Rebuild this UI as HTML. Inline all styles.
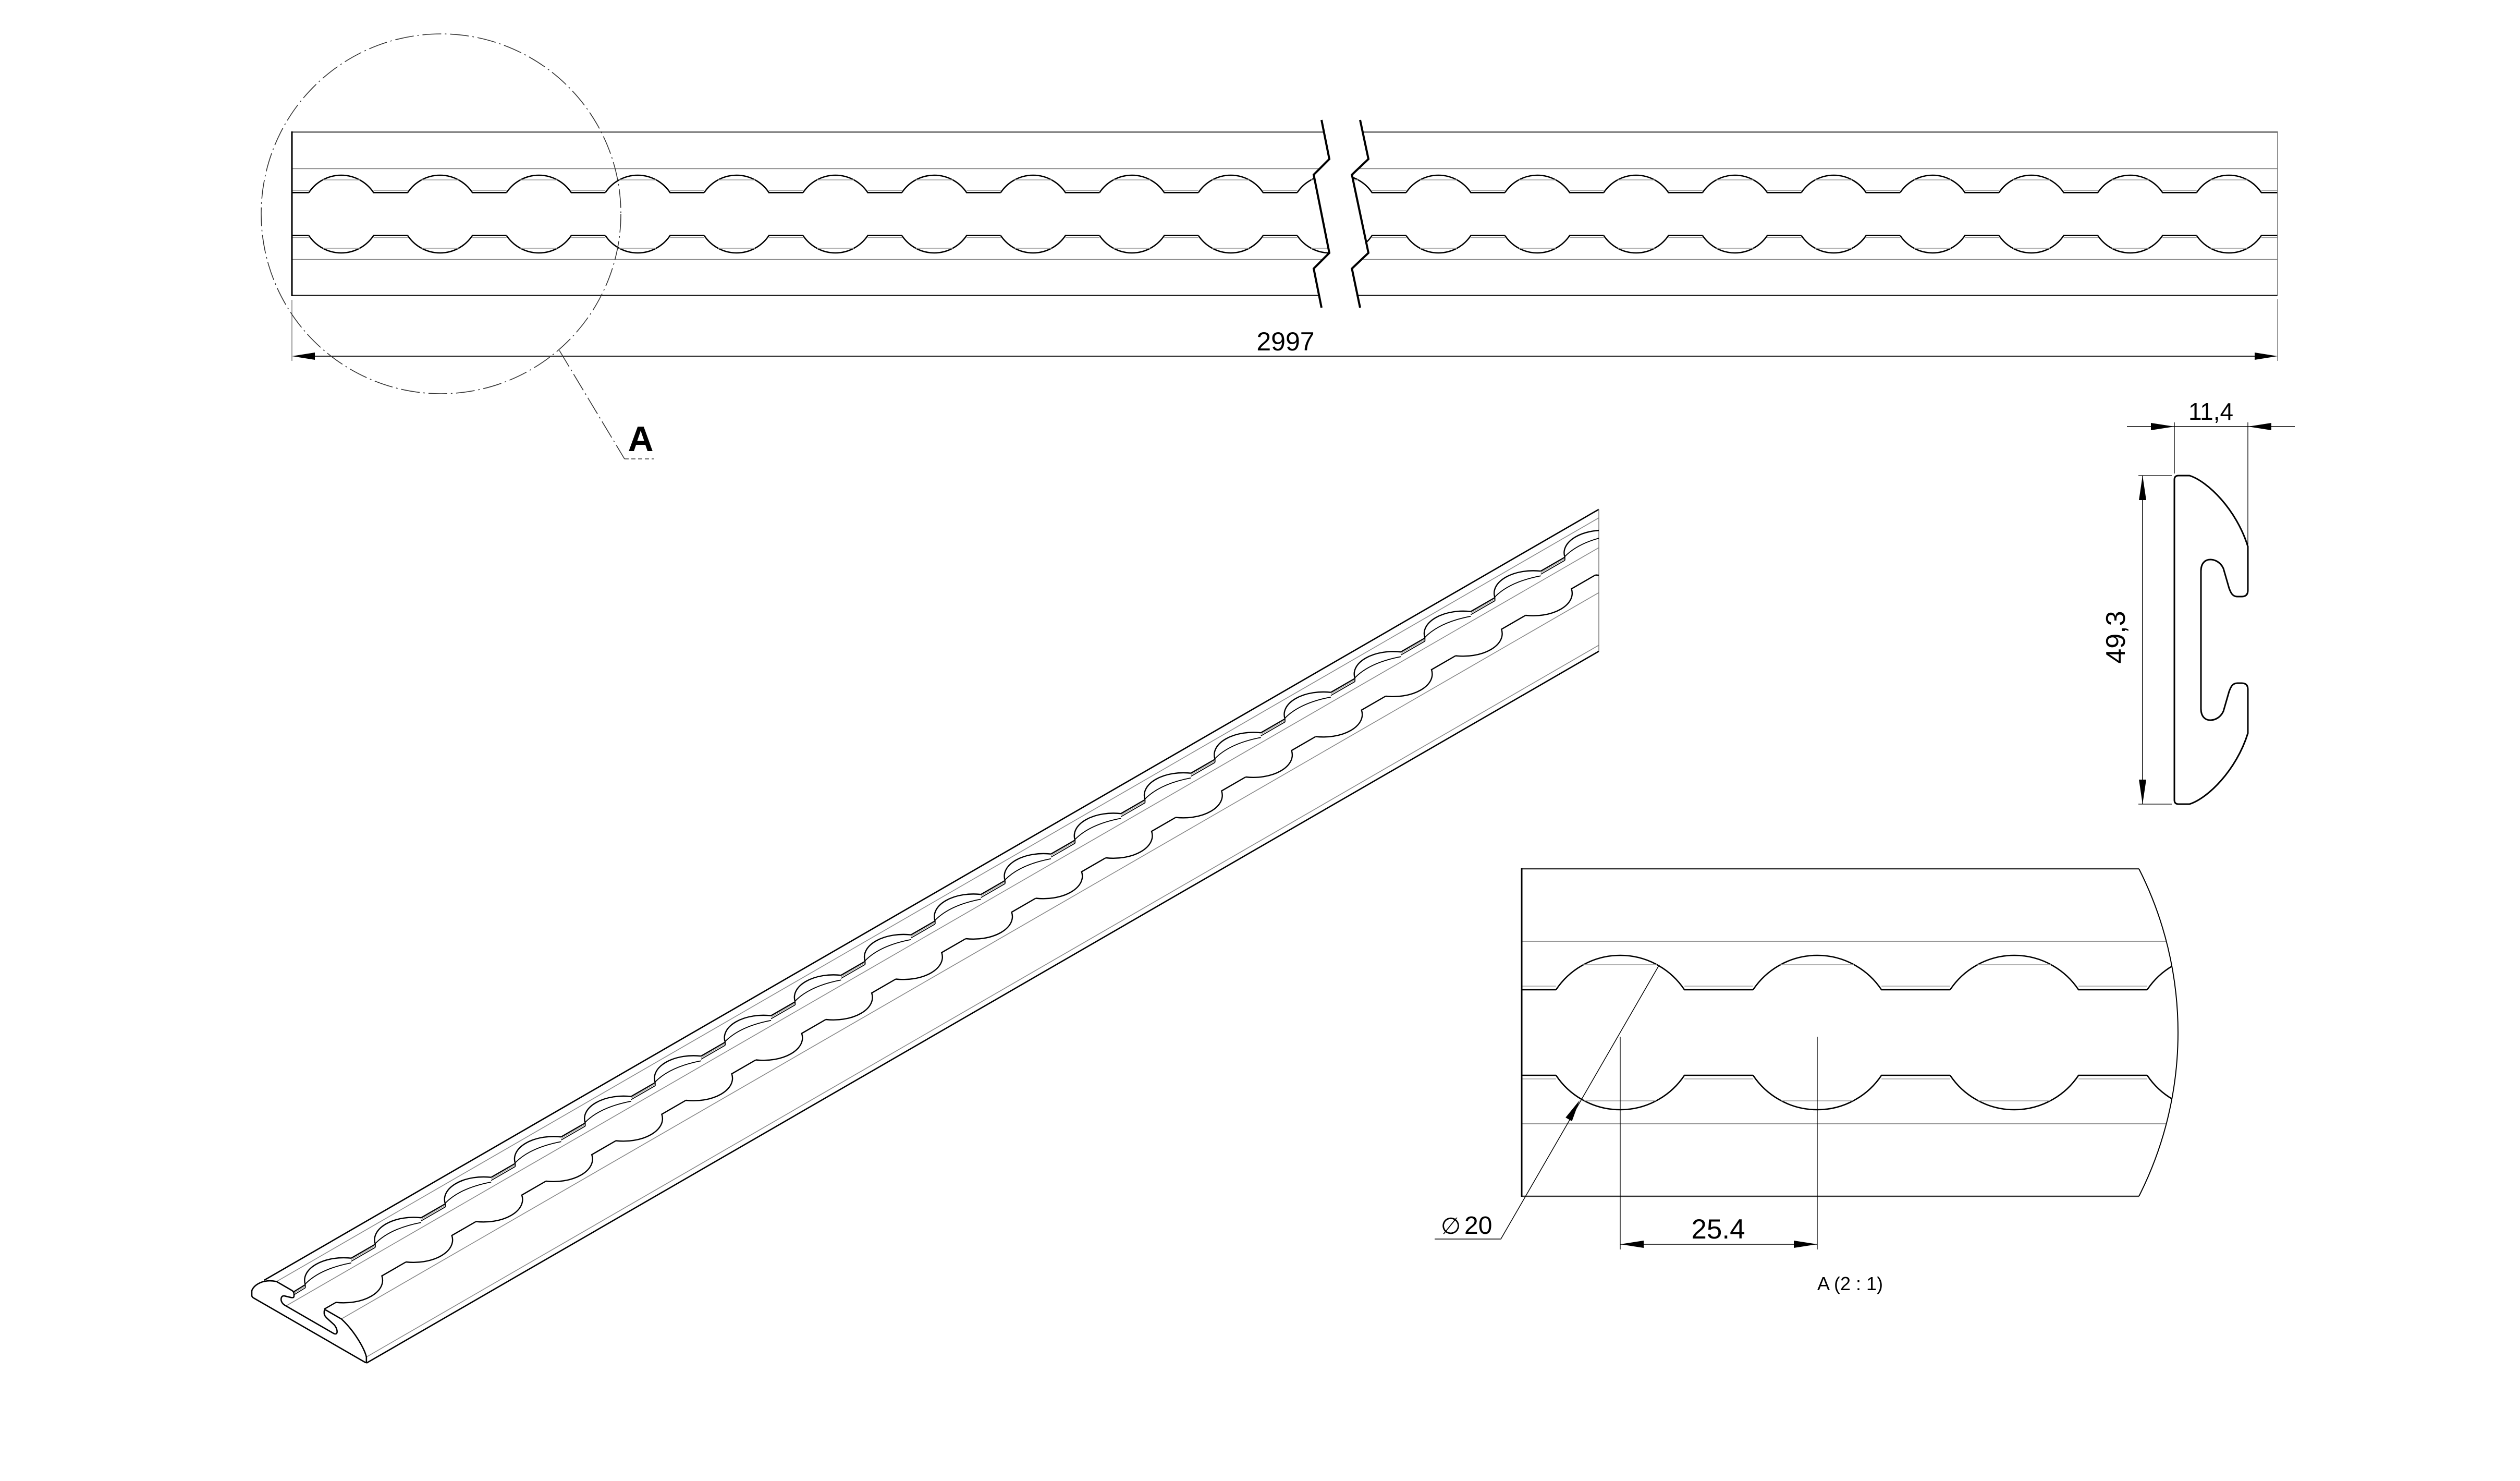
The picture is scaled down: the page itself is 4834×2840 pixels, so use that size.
<!DOCTYPE html>
<html>
<head>
<meta charset="utf-8">
<style>
html,body{margin:0;padding:0;background:#fff;}
svg{display:block;}
text{font-family:"Liberation Sans","DejaVu Sans",sans-serif;fill:#000;}
</style>
</head>
<body>
<svg xmlns="http://www.w3.org/2000/svg" width="4834" height="2840" viewBox="0 0 4834 2840">
<defs>
  <clipPath id="clipL"><path d="M0 0 H2535 V230 L2550 305 L2520 335 L2550 485 L2520 515 L2535 590 V700 H0 Z"/></clipPath>
  <clipPath id="clipR"><path d="M4369.5 0 H2609 V230 L2625 305 L2593.3 335 L2625 485 L2593.3 515 L2609 590 V700 H4369.5 Z"/></clipPath>
  <clipPath id="clipD"><path d="M2900 1666 H4103 A695 695 0 0 1 4103 2294 H2900 Z"/></clipPath>
  <clipPath id="clipI"><rect x="0" y="0" width="3067" height="2840"/></clipPath>

  <g id="tvl" fill="none">
    <line x1="560" y1="253.3" x2="4369" y2="253.3" stroke="#666" stroke-width="2.6"/>
    <line x1="560" y1="323.3" x2="4369" y2="323.3" stroke="#8a8a8a" stroke-width="1.8"/>
    <line x1="560" y1="497.7" x2="4369" y2="497.7" stroke="#8a8a8a" stroke-width="1.8"/>
    <line x1="560" y1="566.7" x2="4369" y2="566.7" stroke="#222" stroke-width="2.6"/>
  </g>
  <g id="tp" fill="none">
    <path d="M0 369.3 A74.5 74.5 0 0 1 124.14 369.3 H189.6" stroke="#000" stroke-width="2.6"/>
    <path d="M0 451.7 A74.5 74.5 0 0 0 124.14 451.7 H189.6" stroke="#000" stroke-width="2.6"/>
    <path d="M26.57 345 H97.57 M26.57 476 H97.57 M124.14 365.5 H189.6 M124.14 455.5 H189.6" stroke="#9a9a9a" stroke-width="1.6"/>
  </g>
  <g id="dp" fill="none">
    <path d="M0 1898 A148 148 0 0 1 246.4 1898 H378" stroke="#000" stroke-width="2.6"/>
    <path d="M0 2062 A148 148 0 0 0 246.4 2062 H378" stroke="#000" stroke-width="2.6"/>
    <path d="M52.5 1850 H193.9 M54.3 2111 H192.1 M246.4 1891 H378 M246.4 2069 H378" stroke="#9a9a9a" stroke-width="1.6"/>
  </g>
  <g id="ip" fill="none" stroke="#000">
    <path d="M-73.4 8.4 A74.9 43.2 0 0 1 14.6 -42.4" stroke-width="2.4"/>
    <path d="M-73.4 7 Q-45 -22 14.6 -33.4" stroke-width="1.8"/>
    <path d="M-73.4 8.4 v6" stroke-width="1.8"/>
    <path d="M14.6 -42.4 L60.83 -69.1" stroke-width="2.4"/>
    <path d="M14.6 -36.4 L60.83 -63.1" stroke-width="1.6"/>
    <path d="M14.6 -39.4 L60.83 -66.1" stroke="#999" stroke-width="1.2"/>
    <path d="M-14.6 42.4 A74.9 43.2 0 0 0 73.4 -8.4 L119.63 -35.1" stroke-width="2.4"/>
  </g>
</defs>

<!-- ================= TOP VIEW ================= -->
<g clip-path="url(#clipL)">
  <use href="#tvl"/>
  <path d="M560 369.3 H592.43 M560 451.7 H592.43" stroke="#000" stroke-width="2.6" fill="none"/>
  <path d="M560 365.5 H592.43 M560 455.5 H592.43" stroke="#9a9a9a" stroke-width="1.6" fill="none"/>
  <use href="#tp" x="592.43"/>
  <use href="#tp" x="782.03"/>
  <use href="#tp" x="971.63"/>
  <use href="#tp" x="1161.23"/>
  <use href="#tp" x="1350.83"/>
  <use href="#tp" x="1540.43"/>
  <use href="#tp" x="1730.03"/>
  <use href="#tp" x="1919.63"/>
  <use href="#tp" x="2109.23"/>
  <use href="#tp" x="2298.83"/>
  <use href="#tp" x="2488.43"/>
</g>
<g clip-path="url(#clipR)">
  <use href="#tvl"/>
  <use href="#tp" x="2507.73"/>
  <use href="#tp" x="2697.28"/>
  <use href="#tp" x="2886.83"/>
  <use href="#tp" x="3076.38"/>
  <use href="#tp" x="3265.93"/>
  <use href="#tp" x="3455.48"/>
  <use href="#tp" x="3645.03"/>
  <use href="#tp" x="3834.58"/>
  <use href="#tp" x="4024.13"/>
  <use href="#tp" x="4213.68"/>
</g>
<line x1="560" y1="252" x2="560" y2="568" stroke="#000" stroke-width="3"/>
<line x1="4369" y1="252" x2="4369" y2="568" stroke="#777" stroke-width="1.6"/>
<polyline points="2535,230 2550,305 2520,335 2550,485 2520,515 2535,590" fill="none" stroke="#000" stroke-width="4"/>
<polyline points="2609,230 2625,305 2593.3,335 2625,485 2593.3,515 2609,590" fill="none" stroke="#000" stroke-width="4"/>

<line x1="560" y1="575" x2="560" y2="692" stroke="#666" stroke-width="1.3"/>
<line x1="4369" y1="574" x2="4369" y2="692" stroke="#666" stroke-width="1.3"/>
<line x1="600" y1="683" x2="4330" y2="683" stroke="#000" stroke-width="1.8"/>
<polygon points="560,683 604,676 604,690" fill="#000"/>
<polygon points="4369,683 4325,676 4325,690" fill="#000"/>
<text x="2466" y="672" font-size="50" text-anchor="middle">2997</text>

<circle cx="846" cy="410" r="345" fill="none" stroke="#333" stroke-width="1.6" stroke-dasharray="36 7 3 7"/>
<path d="M1073 672 L1198 880" fill="none" stroke="#333" stroke-width="1.6" stroke-dasharray="36 7 3 7"/>
<path d="M1198 880 H1254" fill="none" stroke="#333" stroke-width="1.6" stroke-dasharray="8 5"/>
<text x="1229" y="865" font-size="68" font-weight="bold" text-anchor="middle">A</text>

<!-- ================= SECTION PROFILE ================= -->
<path d="M4171 920 Q4171 912 4179 912 L4200 912 C4235 923 4290 977 4312 1048 L4312 1132 Q4312 1144 4300 1144 L4292 1144 C4282 1144 4279 1136 4276 1128 L4265 1090 C4258 1075 4245 1073 4240 1073 C4230 1073 4222 1080 4222 1095 L4222 1359 C4222 1374 4230 1381 4240 1381 C4245 1381 4258 1379 4265 1364 L4276 1326 C4279 1318 4282 1310 4292 1310 L4300 1310 Q4312 1310 4312 1322 L4312 1406 C4290 1477 4235 1531 4200 1542 L4179 1542 Q4171 1542 4171 1534 Z" fill="none" stroke="#000" stroke-width="3"/>
<line x1="4080" y1="818" x2="4402" y2="818" stroke="#000" stroke-width="1.5"/>
<line x1="4171" y1="810" x2="4171" y2="908" stroke="#000" stroke-width="1.3"/>
<line x1="4312" y1="810" x2="4312" y2="1044" stroke="#000" stroke-width="1.3"/>
<polygon points="4171,818 4126,811 4126,825" fill="#000"/>
<polygon points="4312,818 4357,811 4357,825" fill="#000"/>
<text x="4241" y="805" font-size="46" text-anchor="middle">11,4</text>
<line x1="4110" y1="912" x2="4110" y2="1542" stroke="#000" stroke-width="1.5"/>
<line x1="4102" y1="912" x2="4166" y2="912" stroke="#000" stroke-width="1.3"/>
<line x1="4102" y1="1542" x2="4166" y2="1542" stroke="#000" stroke-width="1.3"/>
<polygon points="4110,912 4103,959 4117,959" fill="#000"/>
<polygon points="4110,1542 4103,1495 4117,1495" fill="#000"/>
<text transform="translate(4076 1222) rotate(-90)" font-size="52" text-anchor="middle">49,3</text>

<!-- ================= DETAIL A ================= -->
<g clip-path="url(#clipD)">
  <line x1="2919" y1="1805" x2="4200" y2="1805" stroke="#8a8a8a" stroke-width="1.8"/>
  <line x1="2919" y1="2155" x2="4200" y2="2155" stroke="#8a8a8a" stroke-width="1.8"/>
  <path d="M2919 1898 H2984.8 M2919 2062 H2984.8" stroke="#000" stroke-width="2.6" fill="none"/>
  <path d="M2919 1891 H2984.8 M2919 2069 H2984.8" stroke="#9a9a9a" stroke-width="1.6" fill="none"/>
  <use href="#dp" x="2984.8"/>
  <use href="#dp" x="3362.8"/>
  <use href="#dp" x="3740.8"/>
  <use href="#dp" x="4118.8"/>
</g>
<line x1="2919" y1="1666" x2="4103" y2="1666" stroke="#333" stroke-width="2.6"/>
<line x1="2919" y1="2294" x2="4103" y2="2294" stroke="#333" stroke-width="2.6"/>
<line x1="2919" y1="1665" x2="2919" y2="2295" stroke="#000" stroke-width="3"/>
<path d="M4103 1666 A695 695 0 0 1 4103 2294" fill="none" stroke="#000" stroke-width="2"/>
<line x1="3108" y1="1988" x2="3108" y2="2396" stroke="#000" stroke-width="1.3"/>
<line x1="3486" y1="1988" x2="3486" y2="2396" stroke="#000" stroke-width="1.3"/>
<line x1="3108" y1="2386" x2="3486" y2="2386" stroke="#000" stroke-width="1.6"/>
<polygon points="3108,2386 3153,2379 3153,2393" fill="#000"/>
<polygon points="3486,2386 3441,2379 3441,2393" fill="#000"/>
<text x="3296" y="2375" font-size="53" text-anchor="middle">25.4</text>
<path d="M3183 1850 L2879 2376 H2752" fill="none" stroke="#000" stroke-width="1.5"/>
<polygon points="3030,2110 3015.4,2150 3003.2,2143" fill="#000"/>
<text x="2783" y="2366" font-size="44" text-anchor="middle" style="font-family:'DejaVu Sans',sans-serif;font-weight:normal">∅</text>
<text x="2809" y="2366" font-size="48">20</text>
<text x="3549" y="2474" font-size="36" text-anchor="middle">A (2 : 1)</text>

<!-- ================= ISOMETRIC VIEW ================= -->
<g fill="none">
  <path d="M506.7 2455 L3067 976.7" stroke="#000" stroke-width="2.6"/>
  <path d="M530.4 2457.6 L3067 993" stroke="#8a8a8a" stroke-width="1.6"/>
  <path d="M548.6 2504.3 L3067 1050.2" stroke="#8a8a8a" stroke-width="1.6"/>
  <path d="M654.7 2529.3 L3067 1136.4" stroke="#8a8a8a" stroke-width="1.6"/>
  <path d="M702.9 2602.2 L3067 1237.2" stroke="#8a8a8a" stroke-width="1.6"/>
  <path d="M702.9 2613.9 L3067 1248.9" stroke="#000" stroke-width="2.6"/>
  <path d="M3067 976.7 V1248.9" stroke="#777" stroke-width="1.5"/>
</g>
<g clip-path="url(#clipI)">
  <path d="M564 2476.9 L585.7 2463.5" stroke="#000" stroke-width="2.4" fill="none"/>
  <path d="M564 2482.9 L585.7 2469.5" stroke="#000" stroke-width="1.6" fill="none"/>
  <path d="M564 2479.9 L585.7 2466.5" stroke="#999" stroke-width="1.2" fill="none"/>
  <path d="M621.9 2510.4 L644.5 2497.5" stroke="#000" stroke-width="2.4" fill="none"/>
  <use href="#ip" x="659.1" y="2455.1"/>
  <use href="#ip" x="793.33" y="2377.6"/>
  <use href="#ip" x="927.56" y="2300.1"/>
  <use href="#ip" x="1061.79" y="2222.6"/>
  <use href="#ip" x="1196.02" y="2145.1"/>
  <use href="#ip" x="1330.25" y="2067.6"/>
  <use href="#ip" x="1464.48" y="1990.1"/>
  <use href="#ip" x="1598.71" y="1912.6"/>
  <use href="#ip" x="1732.94" y="1835.1"/>
  <use href="#ip" x="1867.17" y="1757.6"/>
  <use href="#ip" x="2001.4" y="1680.1"/>
  <use href="#ip" x="2135.63" y="1602.6"/>
  <use href="#ip" x="2269.86" y="1525.1"/>
  <use href="#ip" x="2404.09" y="1447.6"/>
  <use href="#ip" x="2538.32" y="1370.1"/>
  <use href="#ip" x="2672.55" y="1292.6"/>
  <use href="#ip" x="2806.78" y="1215.1"/>
  <use href="#ip" x="2941.01" y="1137.6"/>
  <use href="#ip" x="3075.24" y="1060.1"/>
</g>
<g transform="matrix(0 -0.403 0.349 0.2015 164.7 3984.1)">
  <path d="M4171 920 Q4171 912 4179 912 L4200 912 C4235 923 4290 977 4312 1048 L4312 1132 Q4312 1144 4300 1144 L4292 1144 C4282 1144 4279 1136 4276 1128 L4265 1090 C4258 1075 4245 1073 4240 1073 C4230 1073 4222 1080 4222 1095 L4222 1359 C4222 1374 4230 1381 4240 1381 C4245 1381 4258 1379 4265 1364 L4276 1326 C4279 1318 4282 1310 4292 1310 L4300 1310 Q4312 1310 4312 1322 L4312 1406 C4290 1477 4235 1531 4200 1542 L4179 1542 Q4171 1542 4171 1534 Z" fill="#fff" stroke="#000" stroke-width="2.6" vector-effect="non-scaling-stroke"/>
</g>
</svg>
</body>
</html>
